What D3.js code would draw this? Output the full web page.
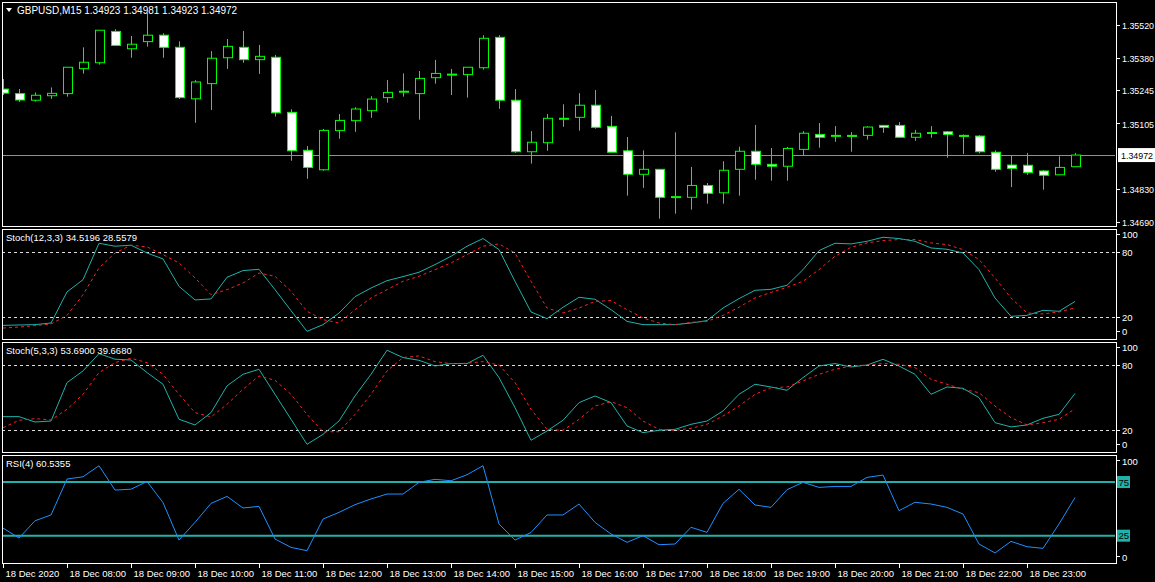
<!DOCTYPE html>
<html><head><meta charset="utf-8">
<script src="https://cdn.jsdelivr.net/npm/d3@7"></script>
<style>body{margin:0;background:#000;}svg{display:block;}text{font-family:"Liberation Sans",Arial,sans-serif;}</style>
</head><body><svg id="c" width="1155" height="582"></svg>
<script>
const opens=[1.35250,1.35231,1.35203,1.35222,1.35231,1.35336,1.35361,1.35493,1.35420,1.35450,1.35477,1.35426,1.35209,1.35273,1.35382,1.35426,1.35374,1.35384,1.35152,1.34992,1.34910,1.35075,1.35117,1.35159,1.35214,1.35238,1.35231,1.35298,1.35311,1.35311,1.35340,1.35468,1.35203,1.34986,1.35024,1.35125,1.35131,1.35182,1.35093,1.34990,1.34891,1.34912,1.34796,1.34794,1.34844,1.34813,1.34912,1.34988,1.34933,1.34925,1.34996,1.35059,1.35054,1.35055,1.35055,1.35097,1.35097,1.35047,1.35066,1.35070,1.35055,1.35052,1.34984,1.34930,1.34929,1.34905,1.34889,1.34923];
const highs=[1.35292,1.35250,1.35236,1.35257,1.35342,1.35426,1.35498,1.35502,1.35474,1.35571,1.35485,1.35451,1.35288,1.35410,1.35461,1.35495,1.35436,1.35394,1.35165,1.35010,1.35082,1.35145,1.35174,1.35220,1.35288,1.35316,1.35326,1.35373,1.35335,1.35342,1.35477,1.35477,1.35250,1.35073,1.35145,1.35186,1.35233,1.35246,1.35137,1.35048,1.34992,1.34912,1.35068,1.34922,1.34854,1.34946,1.35007,1.35099,1.35002,1.35006,1.35073,1.35107,1.35094,1.35069,1.35094,1.35097,1.35111,1.35078,1.35094,1.35073,1.35059,1.35056,1.34992,1.34972,1.34981,1.34909,1.34967,1.34981];
const lows=[1.35225,1.35196,1.35197,1.35209,1.35218,1.35315,1.35353,1.35434,1.35382,1.35429,1.35382,1.35208,1.35108,1.35162,1.35335,1.35361,1.35314,1.35134,1.34948,1.34872,1.34906,1.35041,1.35070,1.35129,1.35193,1.35218,1.35121,1.35273,1.35225,1.35214,1.35332,1.35167,1.34981,1.34936,1.34990,1.35091,1.35075,1.35083,1.34984,1.34801,1.34834,1.34704,1.34725,1.34742,1.34767,1.34767,1.34801,1.34868,1.34864,1.34864,1.34972,1.35003,1.35028,1.34986,1.35037,1.35066,1.35044,1.35032,1.35045,1.34961,1.34976,1.34979,1.34902,1.34837,1.34889,1.34826,1.34889,1.34923];
const closes=[1.35233,1.35204,1.35224,1.35232,1.35342,1.35363,1.35498,1.35434,1.35439,1.35477,1.35426,1.35214,1.35280,1.35380,1.35430,1.35374,1.35388,1.35150,1.34990,1.34920,1.35076,1.35118,1.35166,1.35208,1.35236,1.35241,1.35295,1.35316,1.35313,1.35342,1.35464,1.35203,1.34986,1.35026,1.35127,1.35127,1.35182,1.35089,1.34984,1.34891,1.34912,1.34794,1.34797,1.34844,1.34811,1.34908,1.34988,1.34933,1.34925,1.35000,1.35064,1.35047,1.35055,1.35053,1.35090,1.35089,1.35047,1.35064,1.35067,1.35059,1.35054,1.34986,1.34912,1.34916,1.34898,1.34887,1.34920,1.34972];
const stoch1K=[12.6,13.0,13.3,14.8,43.2,54.4,87.7,85.0,85.9,78.8,73.4,48.3,35.9,36.8,56.6,62.7,63.9,45.3,26.1,7.2,13.3,23.9,38.9,46.8,53.5,57.2,61.2,68.2,75.8,85.0,92.0,81.9,52.9,24.9,18.8,29.2,38.3,36.5,27.0,16.3,13.3,13.3,13.3,14.8,17.0,28.5,37.1,44.7,45.6,49.3,63.6,81.0,87.7,87.1,89.5,93.2,92.0,89.5,83.4,82.2,78.8,63.6,37.7,20.9,21.8,26.4,25.5,34.5];
const stoch1D=[10.2,11.1,12.4,13.9,21.8,40.7,65.1,78.8,85.9,84.4,77.3,69.7,56.0,40.7,45.3,51.4,60.5,57.5,43.8,25.5,17.9,14.8,27.0,37.7,45.3,52.9,57.5,63.6,69.7,77.3,85.0,87.1,78.8,52.9,28.5,23.9,28.5,34.6,35.3,27.0,19.4,14.8,13.3,15.4,16.3,21.8,29.2,37.7,42.8,47.5,52.9,63.6,75.8,84.0,88.0,90.1,91.1,91.1,88.0,86.5,81.9,72.8,56.0,37.7,24.0,23.1,24.9,28.6];
const stoch2K=[32.5,32.5,27.6,28.5,63.6,74.3,90.1,85.0,84.3,72.8,62.1,30.1,24.9,36.2,60.6,71.2,75.8,52.9,30.1,7.2,16.3,28.5,51.4,71.2,93.2,86.5,84.0,78.8,81.0,81.0,88.6,68.2,40.7,10.9,19.4,29.2,45.3,51.4,45.3,24.0,17.9,20.0,20.9,25.5,28.5,37.7,52.9,62.1,59.6,56.6,68.2,78.8,81.0,77.9,79.7,84.9,78.8,71.2,52.9,59.6,58.4,49.9,27.0,23.1,24.9,31.0,34.6,53.7];
const stoch2D=[22.4,29.2,30.7,29.5,39.2,52.9,72.8,81.9,85.9,81.9,71.2,52.9,36.2,32.2,43.8,57.5,69.7,65.7,52.9,34.6,18.7,18.7,34.6,52.9,74.3,86.5,88.0,82.8,81.0,81.3,82.8,79.7,63.6,39.2,20.9,20.0,30.0,42.2,46.2,40.7,28.5,20.9,20.0,21.8,25.5,33.1,42.2,52.9,59.0,59.6,65.1,71.2,75.8,78.8,79.7,81.0,80.4,77.3,66.6,62.1,57.5,54.4,42.2,31.6,24.9,27.0,30.1,39.7];
const rsi=[32.1,22.8,38.9,44.3,77.8,79.9,90.2,67.5,68.3,75.5,55.9,20.9,37.4,55.1,61.6,50.8,52.3,21.9,14.1,11.0,40.5,46.7,53.9,59.2,63.8,63.8,74.7,77.5,76.2,81.8,90.2,35.9,20.9,28.0,44.3,44.3,54.5,37.4,26.6,18.8,25.0,16.6,17.2,32.8,28.1,55.1,68.2,53.6,51.4,67.9,74.7,70.0,70.9,70.9,79.3,81.5,48.3,56.1,54.5,51.4,45.2,17.2,8.9,19.7,14.7,13.2,35.9,60.5];
const priceTicks=[1.35520,1.35380,1.35245,1.35105,1.34830,1.34690];
const timeLabels=["18 Dec 2020","18 Dec 08:00","18 Dec 09:00","18 Dec 10:00","18 Dec 11:00","18 Dec 12:00","18 Dec 13:00","18 Dec 14:00","18 Dec 15:00","18 Dec 16:00","18 Dec 17:00","18 Dec 18:00","18 Dec 19:00","18 Dec 20:00","18 Dec 21:00","18 Dec 22:00","18 Dec 23:00"];
const timeIdx=[0,4,8,12,16,20,24,28,32,36,40,44,48,52,56,60,64];
const title="GBPUSD,M15  1.34923 1.34981 1.34923 1.34972";
const lastPrice=1.34972;

const svg=d3.select("#c");
const L=2,R=1116,G="#00ff00";
const x=d3.scaleLinear().domain([0,67]).range([3,1075]);
const y=d3.scaleLinear().domain([1.34690,1.35520]).range([222,25]);
const panels=[{t:2,b:226},{t:229,b:339},{t:342,b:452},{t:455,b:563}];
panels.forEach((p,i)=>{
  svg.append("clipPath").attr("id","cl"+i).append("rect").attr("x",L+1).attr("y",p.t+1).attr("width",R-L-2).attr("height",p.b-p.t-2);
  svg.append("rect").attr("x",L+0.5).attr("y",p.t+0.5).attr("width",R-L).attr("height",p.b-p.t).attr("fill","none").attr("stroke","#fff");
});
const m=svg.append("g").attr("clip-path","url(#cl0)");
m.append("line").attr("x1",L).attr("x2",R).attr("y1",Math.round(y(lastPrice))+0.5).attr("y2",Math.round(y(lastPrice))+0.5).attr("stroke","#909090");
const idx=d3.range(opens.length);
m.selectAll(".w").data(idx).join("line").attr("x1",i=>Math.round(x(i))+0.5).attr("x2",i=>Math.round(x(i))+0.5)
 .attr("y1",i=>y(highs[i])).attr("y2",i=>y(lows[i])).attr("stroke",G);
m.selectAll(".b").data(idx).join("rect").attr("x",i=>Math.round(x(i))-4+0.5).attr("width",9)
 .attr("y",i=>Math.min(y(opens[i]),y(closes[i]))).attr("height",i=>Math.max(1,Math.abs(y(opens[i])-y(closes[i]))))
 .attr("fill",i=>closes[i]>=opens[i]?"#000":"#fff").attr("stroke",G).attr("stroke-width",1);
svg.append("path").attr("d","M6,8 L12,8 L9,12 Z").attr("fill","#fff");
svg.append("text").attr("x",17).attr("y",14).attr("fill","#fff").attr("font-size","10px").text(title);
const ptxt=(t,xx,yy,col)=>svg.append("text").attr("x",xx).attr("y",yy).attr("fill",col).attr("font-size","9.5px").attr("textLength",32).attr("lengthAdjust","spacingAndGlyphs").text(t);
priceTicks.forEach(v=>{
  svg.append("line").attr("x1",R).attr("x2",R+4).attr("y1",Math.round(y(v))+0.5).attr("y2",Math.round(y(v))+0.5).attr("stroke","#fff");
  ptxt(v.toFixed(5),R+6,y(v)+4,"#fff");
});
svg.append("rect").attr("x",R+2).attr("y",y(lastPrice)-7).attr("width",37).attr("height",14).attr("fill","#fff");
ptxt(lastPrice.toFixed(5),R+5,y(lastPrice)+4,"#000");
function osc(pi,ys,series,label){
  const g=svg.append("g").attr("clip-path","url(#cl"+pi+")");
  [80,20].forEach(v=>g.append("line").attr("x1",L).attr("x2",R).attr("y1",Math.round(ys(v))+0.5).attr("y2",Math.round(ys(v))+0.5).attr("stroke","#ddd").attr("stroke-dasharray","3,3"));
  series.forEach(s=>g.append("path").datum(s.d).attr("fill","none").attr("stroke",s.c).attr("stroke-width",1).attr("stroke-dasharray",s.dash||null)
    .attr("d",d3.line().x((d,i)=>x(i)).y(d=>ys(d))));
  svg.append("text").attr("x",6).attr("y",panels[pi].t+12).attr("fill","#fff").attr("font-size","9.5px").text(label);
  const p=panels[pi];
  [[100,p.t+9],[80,ys(80)+4],[20,ys(20)+4],[0,p.b-4]].forEach(([v,yy])=>{
    svg.append("line").attr("x1",R).attr("x2",R+4).attr("y1",Math.round(yy-4)+0.5).attr("y2",Math.round(yy-4)+0.5).attr("stroke","#fff");
    svg.append("text").attr("x",R+6).attr("y",yy).attr("fill","#fff").attr("font-size","9.5px").text(v);
  });
}
const ys1=d3.scaleLinear().domain([0,100]).range([339.2,229.8]);
const ys2=d3.scaleLinear().domain([0,100]).range([452.2,342.8]);
osc(1,ys1,[{d:stoch1K,c:"#20b2aa"},{d:stoch1D,c:"#ff2020",dash:"3,3"}],"Stoch(12,3,3) 34.5196 28.5579");
osc(2,ys2,[{d:stoch2K,c:"#20b2aa"},{d:stoch2D,c:"#ff2020",dash:"3,3"}],"Stoch(5,3,3) 53.6900 39.6680");
const yr=d3.scaleLinear().domain([0,100]).range([562.5,455.2]);
const rg=svg.append("g").attr("clip-path","url(#cl3)");
[75,25].forEach(v=>rg.append("line").attr("x1",L).attr("x2",R).attr("y1",yr(v)).attr("y2",yr(v)).attr("stroke","#20b2aa").attr("stroke-width",2));
rg.append("path").datum(rsi).attr("fill","none").attr("stroke","#1e90ff").attr("d",d3.line().x((d,i)=>x(i)).y(d=>yr(d)));
svg.append("text").attr("x",6).attr("y",467).attr("fill","#fff").attr("font-size","9.5px").text("RSI(4) 60.5355");
[[100,465],[0,561]].forEach(([v,yy])=>{
  svg.append("line").attr("x1",R).attr("x2",R+4).attr("y1",yy-4.5).attr("y2",yy-4.5).attr("stroke","#fff");
  svg.append("text").attr("x",R+6).attr("y",yy).attr("fill","#fff").attr("font-size","9.5px").text(v);
});
[75,25].forEach(v=>{
  svg.append("rect").attr("x",R+1).attr("y",yr(v)-6).attr("width",13).attr("height",12).attr("fill","#20b2aa");
  svg.append("text").attr("x",R+2.5).attr("y",yr(v)+3.5).attr("fill","#000").attr("font-size","9.5px").text(v);
});
timeIdx.forEach((ti,k)=>{
  const xx=Math.round(x(ti))+0.5;
  svg.append("line").attr("x1",xx).attr("x2",xx).attr("y1",563).attr("y2",568).attr("stroke","#fff");
  svg.append("text").attr("x",xx+2).attr("y",577).attr("fill","#fff").attr("font-size","9.5px").text(timeLabels[k]);
});
</script></body></html>
